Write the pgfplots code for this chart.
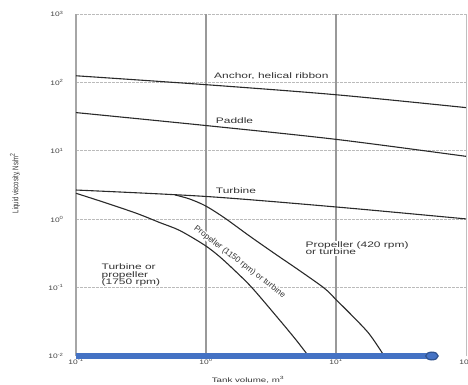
\documentclass[border=0pt]{standalone}
\usepackage{pgfplots}
\pgfplotsset{compat=1.18}
\usepackage{fontspec}
\setmainfont{Liberation Sans}
\newfontfamily\wide[FakeStretch=1.5]{Liberation Sans}
\newfontfamily\tickfont[FakeStretch=1.3]{Liberation Sans}
\definecolor{txt}{HTML}{333333}
\definecolor{tickc}{HTML}{444444}
\definecolor{barblue}{HTML}{4472C4}
\definecolor{bardark}{HTML}{2F528F}
\definecolor{vgrid}{HTML}{999999}
\definecolor{hgrid}{HTML}{BBBBBB}
\definecolor{curve}{HTML}{2A2A2A}
\begin{document}
\begin{tikzpicture}
\begin{axis}[
  scale only axis, width=390bp, height=342bp,
  xmode=log, ymode=log,
  xmin=0.1, xmax=100, ymin=0.01, ymax=1000,
  axis line style={draw=none},
  tick style={draw=none},
  xtick={0.1,1,10,100},
  ytick={0.01,0.1,1,10,100,1000},
  xticklabels={10\textsuperscript{-1},10\textsuperscript{0},10\textsuperscript{1},10\textsuperscript{2}},
  yticklabels={10\textsuperscript{-2},10\textsuperscript{-1},10\textsuperscript{0},10\textsuperscript{1},10\textsuperscript{2},10\textsuperscript{3}},
  xticklabel style={font=\tickfont\fontsize{6.5}{7}\selectfont, text=tickc, yshift=1bp},
  yticklabel style={font=\tickfont\fontsize{6.5}{7}\selectfont, text=tickc, xshift=-9bp},
  clip=false,
]
% grid
\foreach \yy in {0.1,1,10,100}{
  \edef\temp{\noexpand\draw[hgrid, line width=0.9bp, dash pattern=on 3bp off 1bp] (axis cs:0.1,\yy) -- (axis cs:100,\yy);}
  \temp
}
\draw[hgrid, line width=0.9bp, dash pattern=on 3bp off 1bp] (axis cs:0.1,1000) -- (axis cs:100,1000);
\draw[vgrid, line width=1.4bp] (axis cs:1,0.01) -- (axis cs:1,1000);
\draw[vgrid, line width=1.4bp] (axis cs:10,0.01) -- (axis cs:10,1000);
\draw[gray!70, line width=1.8bp] (axis cs:0.1,0.01) -- (axis cs:0.1,1000);
\draw[gray!50, line width=0.9bp] (axis cs:100,0.01) -- (axis cs:100,1000);

% labels with white background (gaps in grid)
\node[font=\wide\fontsize{8}{7.5}\selectfont, text=txt, anchor=west, align=left, fill=white, inner sep=1bp] at (axis cs:5.71,0.377) {Propeller (420 rpm)\\or turbine};
\node[font=\fontsize{8.3}{9}\selectfont, text=txt, rotate=-37.5, fill=white, inner sep=0pt] at (axis cs:1.815,0.2366) {Propeller (1150 rpm) or turbine};

% curves
\addplot[curve, line width=1.1bp, smooth] coordinates {(0.1,125) (1,92.6) (10,66) (100,42.8)};
\addplot[curve, line width=1.1bp, smooth] coordinates {(0.1,36.2) (1,23.4) (10,14.7) (100,8.3)};
\addplot[curve, line width=1.1bp, smooth] coordinates {(0.1,2.67) (1,2.15) (10,1.51) (100,1.01)};
\addplot[curve, line width=1.1bp, smooth, tension=0.5] coordinates {
 (0.1,2.393) (0.162,1.782) (0.292,1.219) (0.442,0.891) (0.628,0.684) (0.977,0.417)
 (1.274,0.283) (1.710,0.169) (2.280,0.0977) (3.681,0.0336) (4.943,0.01706) (6.138,0.01)};
\addplot[curve, line width=1.1bp, smooth, tension=0.5] coordinates {
 (0.575,2.27) (0.750,1.972) (0.995,1.560) (1.392,1.042) (2.163,0.5675) (3.365,0.3155)
 (5.233,0.1778) (8.147,0.0977) (10.07,0.0659) (13.37,0.0385) (18.03,0.0210) (23.5,0.01)};

% other labels
\node[font=\wide\fontsize{8}{7.5}\selectfont, text=txt, anchor=west] at (axis cs:1.087,124) {Anchor, helical ribbon};
\node[font=\wide\fontsize{8}{7.5}\selectfont, text=txt, anchor=west] at (axis cs:1.12,27.3) {Paddle};
\node[font=\wide\fontsize{8}{7.5}\selectfont, text=txt, anchor=west] at (axis cs:1.12,2.61) {Turbine};
\node[font=\wide\fontsize{8}{7.5}\selectfont, text=txt, anchor=west, align=left, inner sep=0pt] at (axis cs:0.157,0.153) {Turbine or\\propeller\\(1750 rpm)};

% blue bar
\addplot[barblue, line width=6.5bp] coordinates {(0.1,0.01) (54.7,0.01)};
\addplot[only marks, mark=*, mark size=3.9bp, mark options={xscale=1.6, fill=barblue, draw=bardark, line width=1.2bp}] coordinates {(54.7,0.01)};

% axis labels
\node[font=\wide\fontsize{6.5}{7}\selectfont, text=txt] at ([yshift=-24bp]rel axis cs:0.441,0) {Tank volume, m\textsuperscript{3}};
\node[rotate=90, text=txt] at ([xshift=-61bp]rel axis cs:0,0.506) {\scalebox{1}[1.4]{\fontsize{6}{7}\selectfont Liquid viscosity, Ns/m\textsuperscript{2}}};

\coordinate (sw) at (rel axis cs:0,0);
\end{axis}
\pgfresetboundingbox
\path[use as bounding box] ([xshift=-76bp,yshift=-29bp]sw) rectangle ([xshift=392bp,yshift=356bp]sw);
\end{tikzpicture}
\end{document}
